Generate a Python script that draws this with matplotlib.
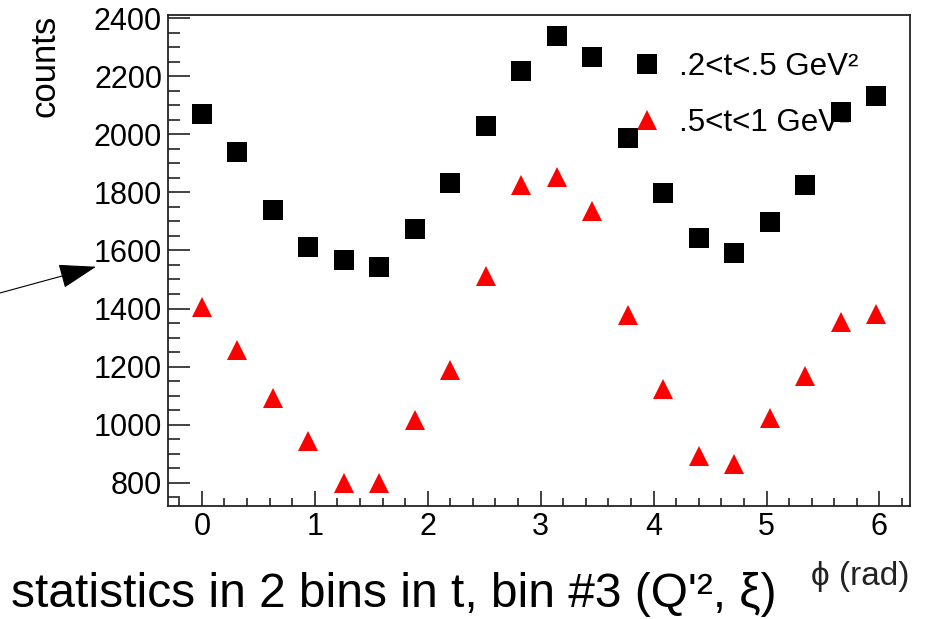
import numpy as np
import matplotlib
matplotlib.use("Agg")
import matplotlib.pyplot as plt
from matplotlib.lines import Line2D
from matplotlib.patches import FancyArrowPatch, ArrowStyle
from matplotlib.ticker import MultipleLocator

plt.rcParams['font.family'] = ['Liberation Sans', 'DejaVu Sans']

# phi bin centres (rad), 20 bins over 2pi
phi = [0.000, 0.314, 0.628, 0.942, 1.257, 1.571, 1.885, 2.199, 2.513, 2.827,
       3.142, 3.456, 3.770, 4.084, 4.398, 4.712, 5.027, 5.341, 5.655, 5.969]

# counts per phi bin, one list per t bin
counts_t1 = [2069, 1938, 1741, 1612, 1568, 1542, 1674, 1831, 2027, 2217,
             2339, 2266, 1986, 1797, 1642, 1590, 1698, 1827, 2076, 2132]
counts_t2 = [1405, 1258, 1092, 944, 799, 798, 1017, 1187, 1511, 1826,
             1854, 1736, 1378, 1123, 892, 864, 1023, 1168, 1352, 1382]

labels = ['.2<t<.5 GeV²', '.5<t<1 GeV²']

fig = plt.figure(figsize=(9.26, 6.19), dpi=100)
ax = fig.add_axes([0.1814, 0.1826, 0.8013, 0.7932])

ax.plot(phi, counts_t1, ls='none', marker='s', ms=14, mew=0, color='black', zorder=3)
ax.plot(phi, counts_t2, ls='none', marker='^', ms=14, mew=0, color='red', zorder=3)

ax.set_xlim(-0.30, 6.27)
ax.set_ylim(720, 2411)

ax.xaxis.set_major_locator(MultipleLocator(1))
ax.xaxis.set_minor_locator(MultipleLocator(0.2))
ax.yaxis.set_major_locator(MultipleLocator(200))
ax.yaxis.set_minor_locator(MultipleLocator(50))

ax.tick_params(axis='both', which='both', direction='in', top=False, right=False,
               color='#222222', width=1.2, labelsize=22)
ax.tick_params(axis='y', which='major', length=15.6, pad=4.3)
ax.tick_params(axis='y', which='minor', length=8.4)
ax.tick_params(axis='x', which='major', length=11, pad=4)
ax.tick_params(axis='x', which='minor', length=5.5)

for s in ax.spines.values():
    s.set_linewidth(1.3)
    s.set_color('#222222')

ax.set_ylabel('counts', fontsize=25, loc='top')
ax.yaxis.set_label_coords(-0.144, 1.0)
ax.set_xlabel('ϕ (rad)', fontsize=24, loc='right', color='#222222')
ax.xaxis.set_label_coords(1.0, -0.113)

handles = [Line2D([], [], ls='none', marker='s', ms=14, mew=0, color='black'),
           Line2D([], [], ls='none', marker='^', ms=14, mew=0, color='red')]
leg = ax.legend(handles, labels, loc='upper left', bbox_to_anchor=(0.625, 0.925),
                frameon=False, fontsize=22.5, handlelength=1.0, handletextpad=0.5,
                labelspacing=0.85, borderpad=0, borderaxespad=0)
leg.set_zorder(1)

fig.text(0.012, 0.02, "statistics in 2 bins in t, bin #3 (Q'², ξ)", fontsize=34.5,
         ha='left', va='baseline')

arrow = FancyArrowPatch((0.0, 0.5267), (0.1037, 0.5691), transform=fig.transFigure,
                        arrowstyle=ArrowStyle('-|>', head_length=23.8, head_width=7.8),
                        mutation_scale=1, shrinkA=0, shrinkB=0, lw=0.8, color='black')
fig.add_artist(arrow)

fig.savefig('out.png', dpi=100)
